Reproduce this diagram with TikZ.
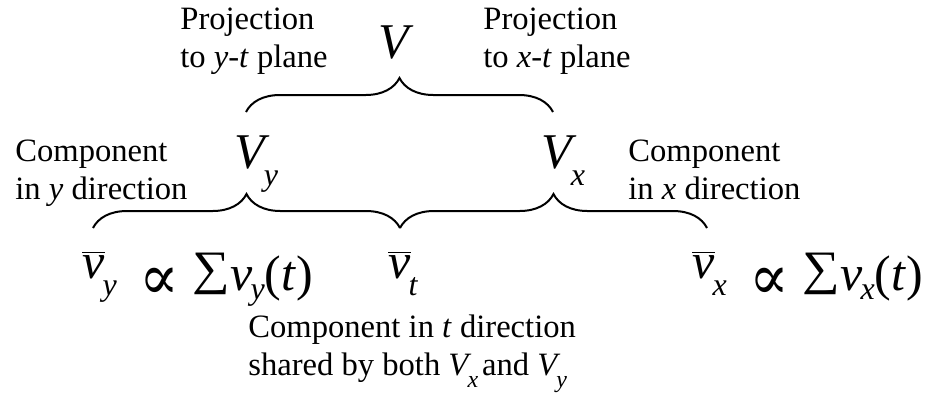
\documentclass[tikz,border=0pt]{standalone}
\usepackage{fontspec}
\usepackage{graphicx}
\setmainfont{Liberation Serif}
\newfontfamily\symfont{DejaVu Serif}
\usetikzlibrary{decorations.pathreplacing}
\newcommand{\bigsub}[1]{\raisebox{-8.5pt}{\fontsize{16}{16}\selectfont\itshape #1}}
\newcommand{\midsub}[1]{\raisebox{-4.5pt}{\fontsize{16}{16}\selectfont\itshape #1}}
\newcommand{\smallsub}[1]{\raisebox{-6pt}{\fontsize{12}{12}\selectfont\itshape #1}}
\newcommand{\vbar}{$\overline{\hbox{\itshape v}}$}
\newcommand{\prop}{\makebox[29pt]{\raisebox{-10.5pt}{\scalebox{0.92}[1]{\fontsize{32}{32}\symfont ∝}}}}
\newcommand{\bigsum}{\raisebox{3pt}{\scalebox{0.88}[0.8]{\fontsize{30}{30}\selectfont ∑}}}
\newcommand{\sumof}[1]{\raisebox{-6pt}{\bigsum\textit{v}\kern-1pt\midsub{#1}(\textit{t})}}

\begin{document}
\begin{tikzpicture}[x=0.5pt,y=-0.5pt,
    note/.style={inner sep=0pt,align=left,anchor=base west,
      font=\fontsize{16.3}{19}\selectfont},
    formula/.style={inner sep=0pt,anchor=base west,
      font=\fontsize{25}{30}\selectfont},
    curly/.style={decorate,line width=1pt,
      decoration={brace,amplitude=17pt}}]
  \useasboundingbox (0,0) rectangle (927,393);
  % projections of V (anchored at the last line)
  \node(projy)[note] at (180,67) {Projection\\to \textit{y}-\textit{t} plane};
  \node(projx)[note] at (483,67) {Projection\\to \textit{x}-\textit{t} plane};
  \node(vv)[formula,anchor=base] at (396,58) {\textit{V}};
  \node(vy)[formula] at (234,168) {\textit{V}\kern-3pt\bigsub{y}};
  \node(vx)[formula] at (541,168) {\textit{V}\kern-3pt\bigsub{x}};
  % components
  \node(compy)[note] at (15,199) {Component\\in \textit{y} direction};
  \node(compx)[note] at (628,199) {Component\\in \textit{x} direction};
  \node(sumy)[formula] at (82,278) {\vbar\kern-1pt\bigsub{y}\hspace{7pt}\prop\hspace{2pt}\sumof{y}};
  \node(vt)[formula] at (388,278) {\vbar\kern-1pt\bigsub{t}};
  \node(sumx)[formula] at (692,278) {\vbar\kern-1pt\bigsub{x}\hspace{7pt}\prop\hspace{2pt}\sumof{x}};
  \node(compt)[note] at (248,375) {Component in \textit{t} direction\\shared by both \textit{V}\kern-2pt\smallsub{x}\hspace{2pt}and \textit{V}\kern-2pt\smallsub{y}};
  % braces
  \coordinate (tl) at (246,112);
  \coordinate (tr) at (553,112);
  \coordinate (bl) at (93,228);
  \coordinate (bm) at (400,228);
  \coordinate (br) at (707,228);
  \draw[curly] (tl) -- (tr);
  \draw[curly] (bl) -- (bm);
  \draw[curly] (bm) -- (br);
\end{tikzpicture}
\end{document}
